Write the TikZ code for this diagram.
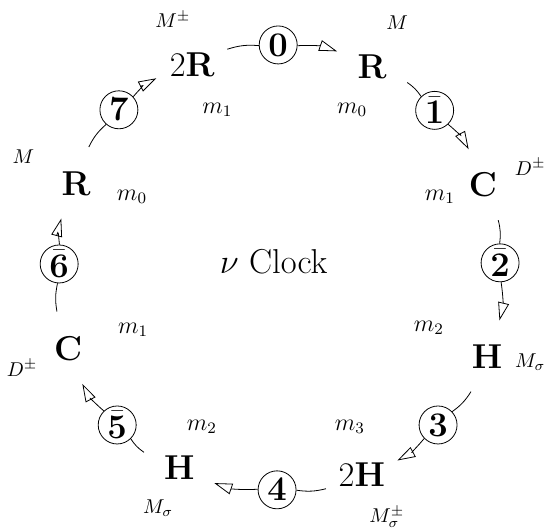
\documentclass[tikz,border=0pt]{standalone}
\usepackage{amsmath,amssymb}
\usetikzlibrary{arrows.meta}

\begin{document}
\begin{tikzpicture}[
    clk/.style={circle,minimum size=38pt,inner sep=0pt,font=\LARGE},
    hand/.style={circle,draw,minimum size=19pt,inner sep=0.5pt,font=\LARGE},
    flow/.style={-{Triangle[open,length=9pt,width=5.5pt]}},
    mlab/.style={font=\large},
    Mlab/.style={font=\normalsize}]
  \useasboundingbox (-4.87,-4.59) rectangle (4.78,4.71);

  % the eight states
  \node[clk] (rr) at (-1.49,3.57) {$2\mathbf{R}$};
  \node[clk] (r1) at (1.67,3.53) {$\mathbf{R}$};
  \node[clk] (c1) at (3.62,1.46) {$\mathbf{C}$};
  \node[clk] (h1) at (3.69,-1.56) {$\mathbf{H}$};
  \node[clk] (hh) at (1.49,-3.64) {$2\mathbf{H}$};
  \node[clk] (h2) at (-1.72,-3.51) {$\mathbf{H}$};
  \node[clk] (c2) at (-3.67,-1.41) {$\mathbf{C}$};
  \node[clk] (r2) at (-3.53,1.49) {$\mathbf{R}$};

  % the steps between them
  \node[hand] (s0) at (0.02,3.92) {$\mathbf{0}$};
  \node[hand] (s1) at (2.77,2.77) {$\bar{\mathbf{1}}$};
  \node[hand] (s2) at (3.92,0.09) {$\bar{\mathbf{2}}$};
  \node[hand] (s3) at (2.83,-2.76) {$\mathbf{3}$};
  \node[hand] (s4) at (0.00,-3.90) {$\mathbf{4}$};
  \node[hand] (s5) at (-2.81,-2.76) {$\bar{\mathbf{5}}$};
  \node[hand] (s6) at (-3.83,0.07) {$\bar{\mathbf{6}}$};
  \node[hand] (s7) at (-2.78,2.78) {$\mathbf{7}$};

  \node[font=\LARGE] (clock) at (-0.06,0.11) {$\nu$ Clock};

  % outer labels
  \node[Mlab] (Mrr) at (-1.83,4.36) {$M^\pm$};
  \node[Mlab] (Mr1) at (2.11,4.31) {$M$};
  \node[Mlab] (Mc1) at (4.45,1.77) {$D^\pm$};
  \node[Mlab] (Mh1) at (4.45,-1.65) {$M_\sigma$};
  \node[Mlab] (Mhh) at (1.93,-4.38) {$M_\sigma^\pm$};
  \node[Mlab] (Mh2) at (-2.09,-4.22) {$M_\sigma$};
  \node[Mlab] (Mc2) at (-4.48,-1.76) {$D^\pm$};
  \node[Mlab] (Mr2) at (-4.46,1.95) {$M$};

  % inner labels
  \node[mlab] (mrr) at (-1.05,2.78) {$m_1$};
  \node[mlab] (mr1) at (1.32,2.78) {$m_0$};
  \node[mlab] (mc1) at (2.86,1.25) {$m_1$};
  \node[mlab] (mh1) at (2.67,-1.05) {$m_2$};
  \node[mlab] (mhh) at (1.28,-2.79) {$m_3$};
  \node[mlab] (mh2) at (-1.32,-2.79) {$m_2$};
  \node[mlab] (mc2) at (-2.53,-1.09) {$m_1$};
  \node[mlab] (mr2) at (-2.55,1.25) {$m_0$};

  % round the clock
  \draw (rr) to[bend left=11] (s0);  \draw[flow] (s0) to[bend left=11] (r1);
  \draw (r1) to[bend left=11] (s1);  \draw[flow] (s1) to[bend left=11] (c1);
  \draw (c1) to[bend left=11] (s2);  \draw[flow] (s2) to[bend left=11] (h1);
  \draw (h1) to[bend left=11] (s3);  \draw[flow] (s3) to[bend left=11] (hh);
  \draw (hh) to[bend left=11] (s4);  \draw[flow] (s4) to[bend left=11] (h2);
  \draw (h2) to[bend left=11] (s5);  \draw[flow] (s5) to[bend left=11] (c2);
  \draw (c2) to[bend left=11] (s6);  \draw[flow] (s6) to[bend left=11] (r2);
  \draw (r2) to[bend left=11] (s7);  \draw[flow] (s7) to[bend left=11] (rr);
\end{tikzpicture}
\end{document}
